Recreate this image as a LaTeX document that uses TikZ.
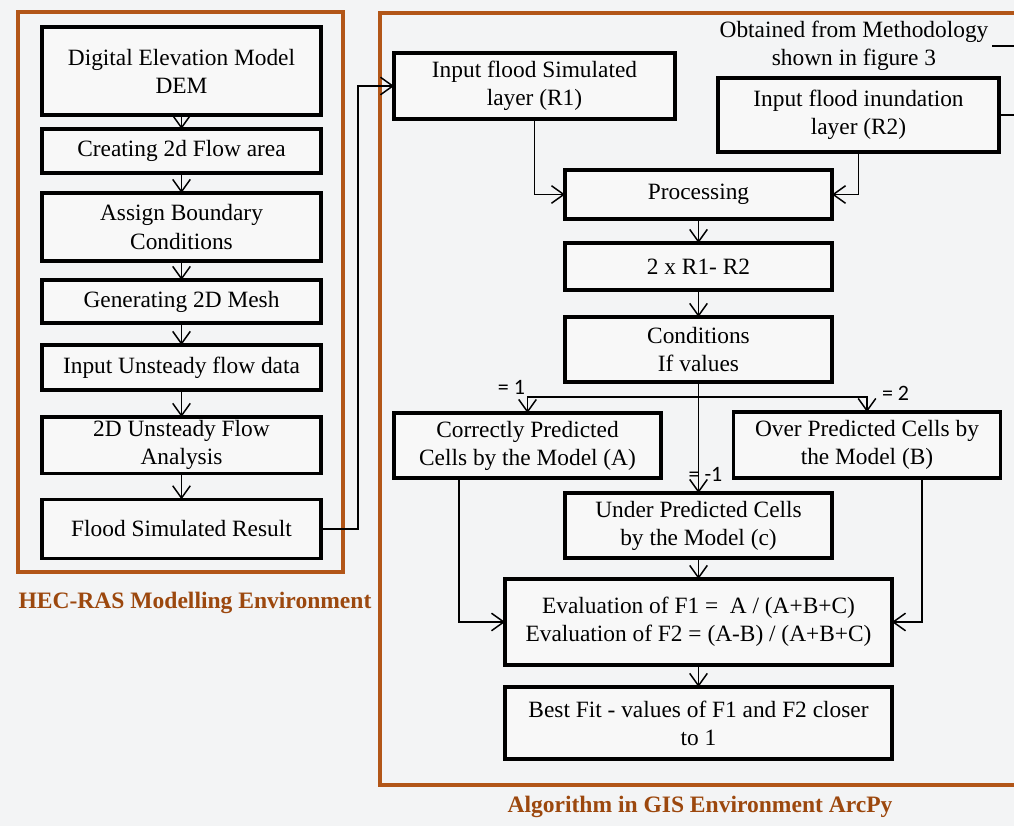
\documentclass[tikz,border=0pt]{standalone}
\usepackage{fontspec}
\setmainfont{Liberation Serif}
\newfontfamily\labelfont{Carlito}
\usepackage{xcolor}
\usetikzlibrary{arrows.meta, positioning}

\definecolor{envorange}{RGB}{178,86,24}
\definecolor{envtext}{RGB}{156,72,14}
\definecolor{paper}{RGB}{243,244,245}
\definecolor{boxfill}{RGB}{248,248,248}

\begin{document}
\begin{tikzpicture}[
        x=0.02cm, y=-0.02cm,
        stepbox/.style={rectangle, draw=black, line width=2pt, fill=boxfill, align=center, inner sep=2pt, outer sep=0pt, font=\fontsize{13.3}{16}\selectfont},
        leftbox/.style={stepbox, minimum width=5.58cm},
        midbox/.style={stepbox, minimum width=5.34cm},
        envframe/.style={draw=envorange, line width=2pt},
        envlabel/.style={font=\fontsize{13.4}{16}\selectfont\bfseries, text=envtext},
        branchlabel/.style={font=\labelfont\fontsize{12.5}{14}\selectfont, inner sep=1pt},
        arrow/.style={-{Straight Barb[length=7pt, width=10pt]}, line width=0.85pt},
        link/.style={line width=0.85pt}
    ]

    % Page
    \fill[paper] (0,0) rectangle (1014,826);
    \useasboundingbox (0,0) rectangle (1014,826);

    % HEC-RAS column
    \node (dem) [leftbox, minimum height=1.76cm] at (181.5,71) {Digital Elevation Model\\DEM};
    \node (flowarea) [leftbox, minimum height=0.88cm, below=0.28cm of dem] {Creating 2d Flow area};
    \node (boundary) [leftbox, minimum height=1.36cm, below=0.4cm of flowarea] {Assign Boundary\\Conditions};
    \node (mesh) [leftbox, minimum height=0.86cm, below=0.38cm of boundary] {Generating 2D Mesh};
    \node (unsteady) [leftbox, minimum height=0.9cm, below=0.44cm of mesh] {Input Unsteady flow data};
    \node (analysis) [leftbox, minimum height=1.12cm, below=0.54cm of unsteady] {2D Unsteady Flow\\Analysis};
    \node (result) [leftbox, minimum height=1.18cm, below=0.52cm of analysis] {Flood Simulated Result};

    % Input layers
    \node (r1) [stepbox, minimum width=5.62cm, minimum height=1.32cm] at (534.5,86) {Input flood Simulated\\layer (R1)};
    \node (r2) [stepbox, minimum width=5.62cm, minimum height=1.48cm] at (858.5,115) {Input flood inundation\\layer (R2)};
    \node (source) [align=center, inner sep=2pt, font=\fontsize{13.3}{16}\selectfont] at (854,46) {Obtained from Methodology\\shown in figure 3};

    % GIS column
    \node (proc) [midbox, minimum height=0.98cm] at (698.5,194.5) {Processing};
    \node (calc) [midbox, minimum height=0.94cm, below=0.48cm of proc] {2 x R1- R2};
    \node (cond) [midbox, minimum height=1.3cm, below=0.54cm of calc] {Conditions\\If values};
    \node (correct) [midbox, minimum height=1.3cm] at (527.5,445.5) {Correctly Predicted\\Cells by the Model (A)};
    \node (over) [midbox, minimum height=1.32cm] at (867,445) {Over Predicted Cells by\\the Model (B)};
    \node (under) [midbox, minimum height=1.3cm] at (698.5,525.5) {Under Predicted Cells\\by the Model (c)};
    \node (eval) [stepbox, minimum width=7.74cm, minimum height=1.72cm, below=0.42cm of under] {Evaluation of F1 =\ \ A / (A+B+C)\\Evaluation of F2 = (A-B) / (A+B+C)};
    \node (best) [stepbox, minimum width=7.74cm, minimum height=1.44cm, below=0.44cm of eval] {Best Fit - values of F1 and F2 closer\\to 1};

    % Environments
    \draw[envframe] (18,12) rectangle (343,572);
    \draw[envframe] (380,13) rectangle (1030,785);
    \node (heclabel) [envlabel] at (195,603) {HEC-RAS Modelling Environment};
    \node (gislabel) [envlabel] at (700,807) {Algorithm in GIS Environment ArcPy};

    % Edges
    \draw[arrow] (dem) -- (flowarea);
    \draw[arrow] (flowarea) -- (boundary);
    \draw[arrow] (boundary) -- (mesh);
    \draw[arrow] (mesh) -- (unsteady);
    \draw[arrow] (unsteady) -- (analysis);
    \draw[arrow] (analysis) -- (result);

    \draw[arrow] (result.east) -- ++(37,0) |- (r1.west);
    \draw[arrow] (r1.south) |- (proc.west);
    \draw[arrow] (r2.south) |- (proc.east);
    \draw[link] (source.east) -- ++(30,0) |- (r2.east);

    \draw[arrow] (proc) -- (calc);
    \draw[arrow] (calc) -- (cond);

    \coordinate (branch) at ([yshift=-0.3cm]cond.south);
    \draw[arrow] (cond.south) -- node[branchlabel, pos=0.83, xshift=0.14cm] {= -1} (under.north);
    \draw[arrow] (branch) -| node[branchlabel, pos=0.5, above left] {= 1} (correct.north);
    \draw[arrow] (branch) -| node[branchlabel, pos=0.5, right, xshift=0.25cm, yshift=0.08cm] {= 2} (over.north);

    \draw[arrow] ([xshift=-1.37cm]correct.south) |- (eval.west);
    \draw[arrow] ([xshift=1.1cm]over.south) |- (eval.east);
    \draw[arrow] (under) -- (eval);
    \draw[arrow] (eval) -- (best);

    \end{tikzpicture}
\end{document}
